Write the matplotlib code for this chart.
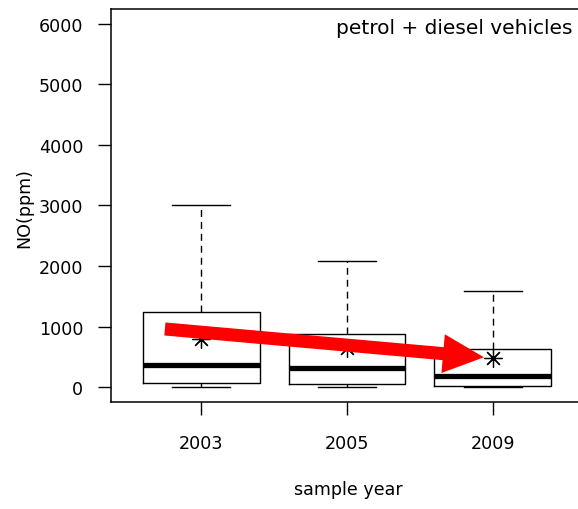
import matplotlib
matplotlib.use("Agg")
import matplotlib.pyplot as plt
from matplotlib.patches import FancyArrowPatch

# NO concentration summary per sample year (ppm)
years = ["2003", "2005", "2009"]
whisker_low = [0, 0, 5]
quart_low = [75, 45, 20]
medians = [370, 315, 180]
quart_high = [1240, 875, 630]
whisker_high = [3000, 2080, 1590]
means = [790, 640, 480]

# red trend arrow, (position, ppm) at tail and tip
arrow_from = (0.75, 960)
arrow_to = (2.94, 493)


def plotBoxes():
    plt.rcParams["font.family"] = "DejaVu Sans"
    fig = plt.figure(figsize=(5.78, 5.10), dpi=100)
    ax = fig.add_axes([111 / 578, 1 - 402.7 / 510, 472 / 578, 392.7 / 510])

    stats = []
    for i in range(len(years)):
        stats.append({"label": years[i], "whislo": whisker_low[i], "q1": quart_low[i],
                      "med": medians[i], "q3": quart_high[i], "whishi": whisker_high[i],
                      "mean": means[i], "fliers": []})

    ax.bxp(stats, positions=[1, 2, 3], widths=0.8, showmeans=True, showfliers=False,
           boxprops=dict(color="black", linewidth=1.0),
           medianprops=dict(color="black", linewidth=3.8, solid_capstyle="butt"),
           whiskerprops=dict(color="black", linewidth=1.0, linestyle=(0, (5, 3.6))),
           capprops=dict(color="black", linewidth=1.0), capwidths=0.4,
           meanprops=dict(marker=(8, 2, 0), markersize=13, markeredgecolor="black",
                          markerfacecolor="none", markeredgewidth=0.9, linestyle="none"))

    arr = FancyArrowPatch(arrow_from, arrow_to,
                          arrowstyle="simple,head_length=29.5,head_width=28,tail_width=9.4",
                          mutation_scale=1, shrinkA=0, shrinkB=0,
                          facecolor="red", edgecolor="none", zorder=5)
    ax.add_patch(arr)

    ax.set_xlim(0.38, 3.62)
    ax.set_ylim(-240, 6240)
    ax.set_yticks(range(0, 7000, 1000))
    ax.set_xticks([1, 2, 3])
    ax.set_xticklabels(years)

    for s in ax.spines.values():
        s.set_linewidth(1.1)
    ax.tick_params(axis="both", length=9.5, width=1.0, labelsize=12.6, colors="black")
    ax.tick_params(axis="x", pad=14)
    ax.tick_params(axis="y", pad=10.5)

    ax.set_ylabel("NO(ppm)", fontsize=12.6)
    ax.yaxis.set_label_coords(-0.164, 0.495)
    ax.set_xlabel("sample year", fontsize=12.6)
    ax.xaxis.set_label_coords(0.503, -0.2)

    ax.text(0.977, 0.954, "petrol + diesel vehicles", transform=ax.transAxes,
            ha="right", va="center", fontsize=14.5)

    fig.savefig("out.png", dpi=100)


def main():
    plotBoxes()


if __name__ == "__main__":
    main()
